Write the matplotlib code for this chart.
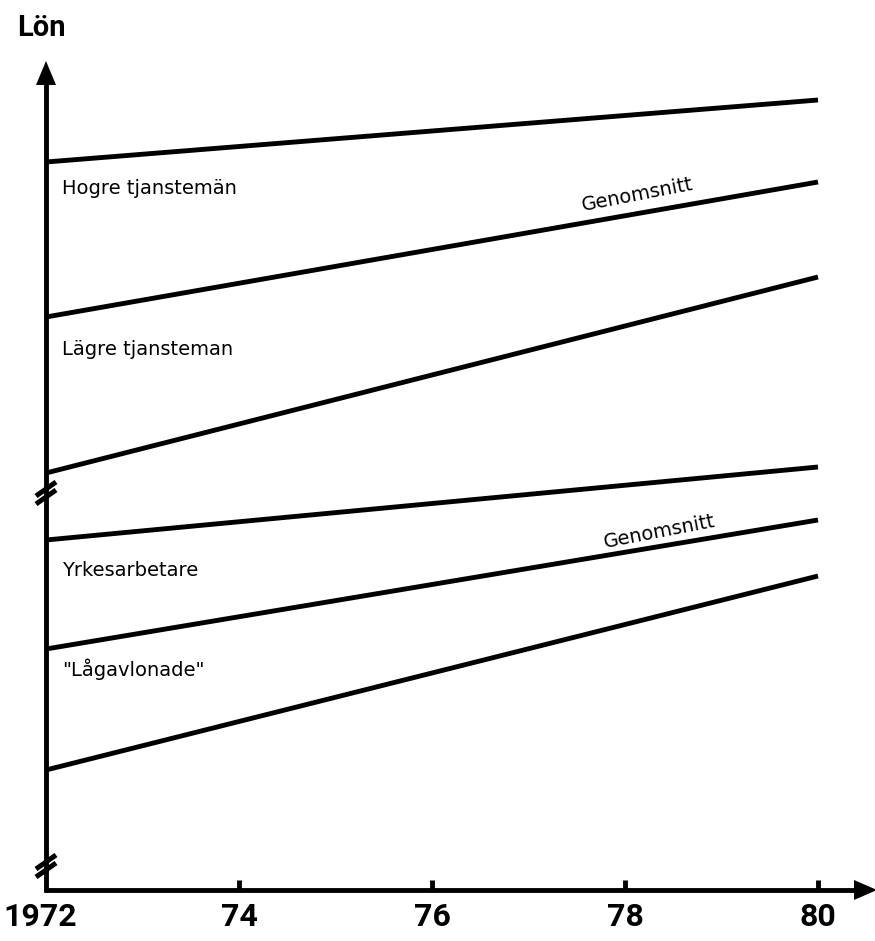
import matplotlib
matplotlib.use('agg')
from matplotlib import pyplot as plt

# Years on the x axis
years_start = 1972
years_end = 1980
tick_years = [1972, 1974, 1976, 1978, 1980]
tick_labels = ['1972', '74', '76', '78', '80']

# Salary levels (arbitrary units) at 1972 and 1980, upper group then lower group
upper_start = [779, 624, 468]
upper_end = [841, 759, 664]
lower_start = [401, 292, 171]
lower_end = [474, 421, 365]

upper_labels = ['Hogre tjanstemän', 'Lägre tjansteman']
lower_labels = ['Yrkesarbetare', '"Lågavlonade"']

# pixel -> data helpers (figure is 875x941 at dpi 100)
px_per_year = 96.5
x0px = 46


def xd(px):
    return years_start + (px - x0px) / px_per_year


def yd(py):
    return 941 - py


fig = plt.figure(figsize=(8.75, 9.41), dpi=100)
ax = fig.add_axes([0, 0, 1, 1])
ax.set_xlim(xd(0), xd(875))
ax.set_ylim(0, 941)
ax.axis('off')

lw = 3.5
font_lab = ['DejaVu Sans']
font_tick = ['Roboto', 'DejaVu Sans']

# salary lines
for s, e in zip(upper_start + lower_start, upper_end + lower_end):
    ax.plot([years_start, years_end], [s, e], color='black', lw=lw,
            solid_capstyle='butt')

# axes
ax.plot([years_start, years_start], [yd(892), yd(80)], color='black', lw=lw,
        solid_capstyle='butt')
ax.plot([xd(44), xd(858)], [yd(890), yd(890)], color='black', lw=lw,
        solid_capstyle='butt')
# arrow heads
ax.fill([xd(36), xd(46), xd(56)], [yd(85), yd(61), yd(85)], color='black', lw=0)
ax.fill([xd(854), xd(877), xd(854)], [yd(880), yd(890), yd(900)], color='black', lw=0)

# ticks
for t in tick_years[1:]:
    ax.plot([t, t], [yd(890), yd(880)], color='black', lw=lw,
            solid_capstyle='butt')

# break marks on the y axis
for by in [493, 866]:
    for off in [-4, 4]:
        ax.plot([xd(36), xd(56)], [yd(by + off + 7), yd(by + off - 7)],
                color='black', lw=3.6, solid_capstyle='butt')

# tick labels
for t, lab in zip(tick_years, tick_labels):
    if t == 1972:
        ax.text(xd(3), yd(917), lab, ha='left', va='center', fontsize=23,
                fontweight='bold', family=font_tick)
    else:
        ax.text(t, yd(917), lab, ha='center', va='center', fontsize=23,
                fontweight='bold', family=font_tick)

ax.text(xd(17), yd(28), 'Lön', ha='left', va='center', fontsize=21,
        fontweight='bold', family=font_tick)

# group labels
ax.text(xd(62), yd(188), upper_labels[0], ha='left', va='center', fontsize=14, family=font_lab)
ax.text(xd(62), yd(349), upper_labels[1], ha='left', va='center', fontsize=14, family=font_lab)
ax.text(xd(62), yd(571), lower_labels[0], ha='left', va='center', fontsize=14, family=font_lab)
ax.text(xd(62), yd(669), lower_labels[1], ha='left', va='center', fontsize=14, family=font_lab)

# "Genomsnitt" along the average lines
ax.text(xd(637), yd(195), 'Genomsnitt', ha='center', va='center', fontsize=14,
        rotation=11, family=font_lab, rotation_mode='anchor')
ax.text(xd(659), yd(532), 'Genomsnitt', ha='center', va='center', fontsize=14,
        rotation=11, family=font_lab, rotation_mode='anchor')

fig.savefig('out.png', dpi=100, facecolor='white')
